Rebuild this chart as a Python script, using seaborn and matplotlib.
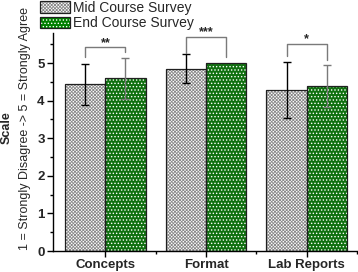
import numpy as np
import pandas as pd
import matplotlib
matplotlib.use('Agg')
import matplotlib.pyplot as plt
import seaborn as sns
from matplotlib.patches import Patch, Rectangle
from matplotlib.ticker import MultipleLocator, FixedLocator

# values
categories = ['Concepts', 'Format', 'Lab Reports']
surveys = ['Mid Course Survey', 'End Course Survey']
mid_means = [4.43, 4.85, 4.28]
end_means = [4.59, 5.00, 4.40]
mid_err = [0.54, 0.39, 0.75]
end_err = [0.55, 0.00, 0.56]
stars = ['**', '***', '*']
bracket_top = [5.43, 5.70, 5.52]
bracket_left_end = [5.17, 5.27, 5.19]
bracket_right_end = [5.29, 5.16, 5.08]

df = pd.DataFrame({
    'category': categories * 2,
    'survey': [surveys[0]] * 3 + [surveys[1]] * 3,
    'score': mid_means + end_means,
})

sns.set_style('ticks')
plt.rcParams['font.family'] = ['Liberation Sans', 'DejaVu Sans']
plt.rcParams['hatch.linewidth'] = 0.6

fig = plt.figure(figsize=(3.58, 2.72), dpi=100)
ax = fig.add_axes([53 / 358, 21 / 272, 304 / 358, 218 / 272])

sns.barplot(data=df, x='category', y='score', hue='survey',
            palette=['white', '#008000'], errorbar=None, width=0.8,
            legend=False, ax=ax)

bars = [p for p in ax.patches if isinstance(p, Rectangle)]
groups = [sorted(bars[:3], key=lambda b: b.get_x()),
          sorted(bars[3:6], key=lambda b: b.get_x())]

hatches = ['xxxxxxxxxx', '.....']
hatch_cols = ['#8a8a8a', 'white']
err_cols = ['black', '#7a7a7a']
errs = [mid_err, end_err]
centers = []
for i, grp in enumerate(groups):
    xs, hs, es = [], [], []
    for j, bar in enumerate(grp):
        bar.set_hatch(hatches[i])
        bar.set_edgecolor(hatch_cols[i])
        bar.set_linewidth(0)
        x0, w, h = bar.get_x(), bar.get_width(), bar.get_height()
        ax.add_patch(Rectangle((x0, 0), w, h, fill=False,
                               edgecolor='#202020', lw=0.9, zorder=3))
        xs.append(x0 + w / 2)
        hs.append(h)
        es.append(errs[i][j])
    centers.append(xs)
    xs, hs, es = np.array(xs), np.array(hs), np.array(es)
    keep = es > 0
    ax.errorbar(xs[keep], hs[keep], yerr=es[keep], fmt='none',
                ecolor=err_cols[i], elinewidth=1, capsize=3, capthick=1,
                zorder=4)

# significance brackets
for j in range(len(categories)):
    xl, xr = centers[0][j], centers[1][j]
    ax.plot([xl, xl, xr, xr],
            [bracket_left_end[j], bracket_top[j], bracket_top[j], bracket_right_end[j]],
            color='#7a7a7a', lw=1, clip_on=False, zorder=4)
    ax.text((xl + xr) / 2, bracket_top[j] + 0.03, stars[j], ha='center',
            va='baseline', fontsize=9, fontweight='bold', clip_on=False)

ax.set_ylim(0, 5.8)
ax.set_xlim(-0.52, 2.5)
ax.yaxis.set_major_locator(FixedLocator([0, 1, 2, 3, 4, 5]))
ax.yaxis.set_minor_locator(MultipleLocator(0.5))
ax.xaxis.set_minor_locator(FixedLocator([0.5, 1.5, 2.5]))
ax.tick_params(which='major', length=4, width=1, color='black')
ax.tick_params(which='minor', length=2.5, width=1, color='black')
ax.tick_params(axis='both', labelsize=9.5, pad=2)
for lab in ax.get_xticklabels() + ax.get_yticklabels():
    lab.set_fontweight('bold')
ax.set_xlabel('')
ax.set_ylabel('')
sns.despine(ax=ax)
for s in ['left', 'bottom']:
    ax.spines[s].set_color('black')
    ax.spines[s].set_linewidth(1)

fig.text(7 / 358, 1 - 128 / 272, 'Scale', rotation=90, ha='center',
         va='center', fontsize=9, fontweight='bold')
fig.text(25 / 358, 1 - 128 / 272, '1 = Strongly Disagree -> 5 = Strongly Agree',
         rotation=90, ha='center', va='center', fontsize=9)

handles = []
for i in range(2):
    fill = Patch(facecolor=['white', '#008000'][i], edgecolor=hatch_cols[i],
                 hatch=hatches[i], lw=0)
    edge = Patch(fill=False, edgecolor='#202020', lw=0.9)
    handles.append((fill, edge))
fig.legend(handles, surveys, loc='upper left', bbox_to_anchor=(40 / 358, 1 - 1 / 272),
           frameon=False, borderpad=0, borderaxespad=0, handlelength=2.15,
           handleheight=0.9, handletextpad=0.25, labelspacing=0.1, fontsize=10)

fig.savefig('out.png', dpi=100)
